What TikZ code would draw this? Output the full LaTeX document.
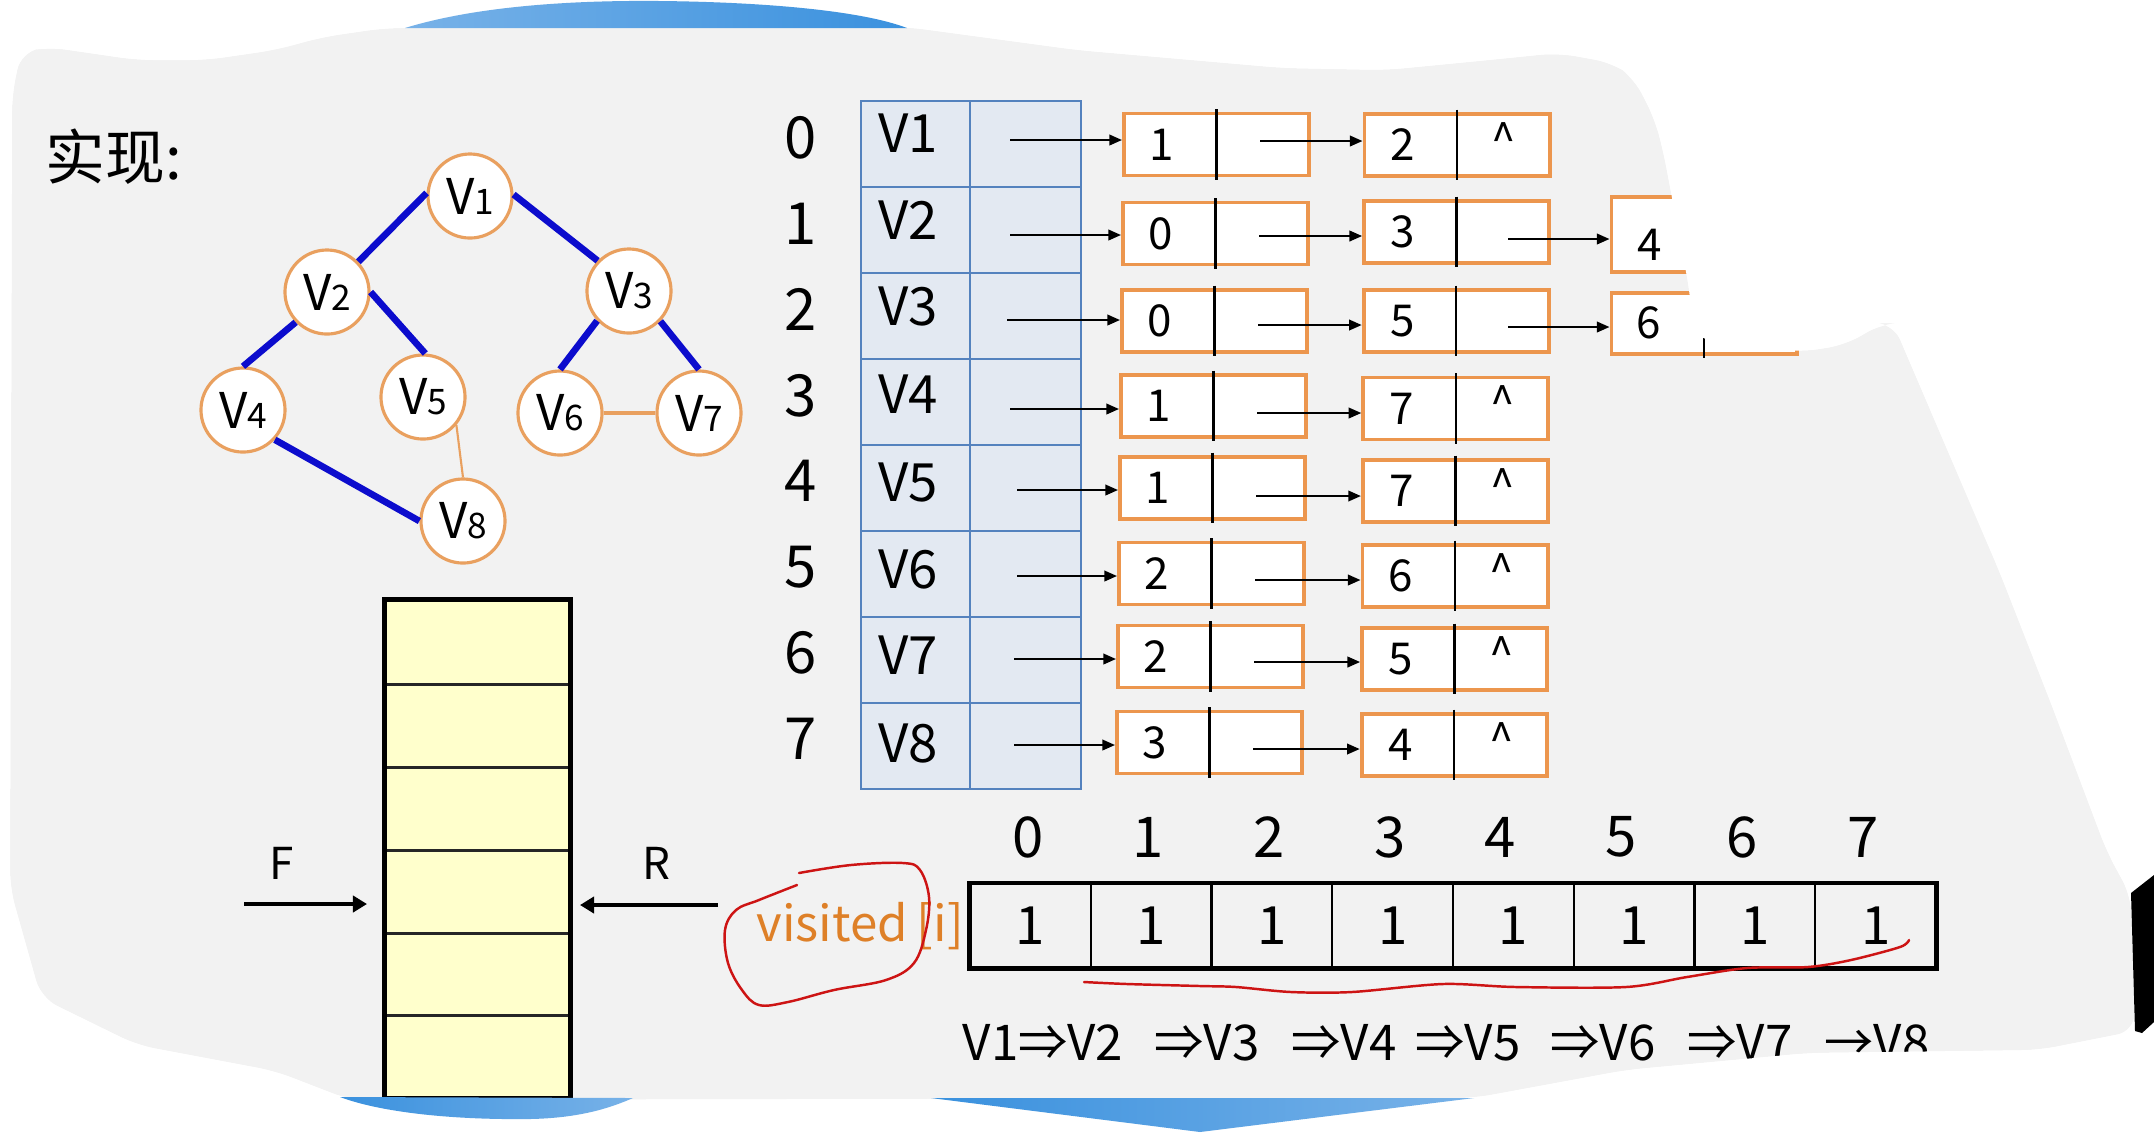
\documentclass[tikz,border=0pt]{standalone}
\usepackage{fontspec}
\setmainfont{Noto Sans CJK SC}
\usetikzlibrary{arrows.meta,calc}
\definecolor{bggray}{RGB}{242,242,242}
\definecolor{gorange}{RGB}{233,160,95}
\definecolor{borange}{RGB}{236,150,78}
\definecolor{gblue}{RGB}{12,12,205}
\definecolor{tblue}{RGB}{84,130,190}
\definecolor{tfill}{RGB}{227,233,242}
\definecolor{qfill}{RGB}{255,255,204}
\definecolor{vorange}{RGB}{222,128,40}
\definecolor{hred}{RGB}{205,20,20}
\definecolor{blueL}{RGB}{120,178,232}
\definecolor{blueR}{RGB}{58,145,222}
\newcommand\fsz[1]{\fontsize{#1}{#1}\selectfont}
\newcommand\gsb[1]{{\fsz{10pt}#1}}
\def\graypath{(12,95) -- (21,52) -- (48,47) -- (137,60) -- (206,60) -- (275,50) -- (323,37) -- (385,28) -- (907,27) -- (1077,50) -- (1283,68) -- (1386,70) -- (1489,60) -- (1558,53) -- (1613,63) -- (1633,77) -- (1654,117) -- (1663,150) -- (1690,293) -- (1693,338) -- (1800,352) -- (1845,345) -- (1883,323) -- (1893,323) -- (2000,573) -- (2052,706) -- (2107,852) -- (2131,896) -- (2135,1031) -- (2039,1050) -- (1808,1053) -- (1626,1070) -- (1474,1098) -- (350,1100) -- (275,1071) -- (137,1045) -- (41,998) -- (10,888) -- cycle}
\begin{document}
\begin{tikzpicture}[x=0.01cm,y=-0.01cm,
  gnode/.style={circle,draw=gorange,line width=0.9pt,fill=white,minimum size=0.84cm,inner sep=0pt,font={\fsz{14pt}}},
  bedge/.style={draw=gblue,line width=1.9pt},
  oedge/.style={draw=gorange,line width=0.6pt},
  tcell/.style={draw=tblue,fill=tfill,line width=0.6pt,inner sep=0pt,minimum height=0.86cm},
  obox/.style={draw=borange,fill=white,line width=1.1pt,inner sep=0pt,minimum width=1.85cm,minimum height=0.62cm},
  divl/.style={draw=black,line width=0.65pt},
  arr/.style={-{Triangle[length=3.6pt,width=3pt]},line width=0.6pt},
  barr/.style={-{Triangle[length=4pt,width=4.6pt]},line width=1.4pt},
  txt/.style={inner sep=0pt,text=black},
  qcell/.style={draw=black!85,fill=qfill,line width=0.85pt,inner sep=0pt,minimum width=1.85cm},
  vcell/.style={draw=black,line width=0.6pt,inner sep=0pt,minimum width=1.2075cm,minimum height=0.85cm,font={\fsz{15pt}}},
  hand/.style={draw=hred,line width=0.7pt,line cap=round,line join=round}]
\useasboundingbox (0,0) rectangle (2154,1132);
\fill[white] (-5,-5) rectangle (2159,1137);
\fill[bggray,rounded corners=5pt] \graypath;

% title
\node[txt,anchor=west,font={\fsz{17pt}}] (title) at (45,157) {实现:};

% graph
\node[gnode] (v1) at (470,196) {V\gsb{1}};
\node[gnode] (v2) at (327,292) {V\gsb{2}};
\node[gnode] (v3) at (629,291) {V\gsb{3}};
\node[gnode] (v4) at (243,410) {V\gsb{4}};
\node[gnode] (v5) at (423,397) {V\gsb{5}};
\node[gnode] (v6) at (560,413) {V\gsb{6}};
\node[gnode] (v7) at (699,413) {V\gsb{7}};
\node[gnode] (v8) at (463,521) {V\gsb{8}};
\draw[bedge] (v1.176) -- (v2.44);
\draw[bedge] (v1.2) -- (v3.136);
\draw[bedge] (v2.224) -- (v4.90);
\draw[bedge] (v2.0) -- (v5.87);
\draw[bedge] (v3.223) -- (v6.90);
\draw[bedge] (v3.-44) -- (v7.90);
\draw[bedge] (v4.-43) -- (v8.180);
\draw[oedge] (v5.-40) -- (v8.90);
\draw[oedge,line width=1.1pt] (v6.0) -- (v7.180);

% vertex table
\foreach \k in {0,...,7} {
  \node[tcell,minimum width=1.09cm] (ta\k) at (915.5,144+86*\k) {};
  \node[tcell,minimum width=1.11cm] (tb\k) at (1025.5,144+86*\k) {};
  \node[txt,font={\fsz{16.5pt}}] (ix\k) at (801,138+85.8*\k) {\k};
}
\foreach \k/\y [evaluate=\k as \n using int(\k+1)] in {0/133,1/220,2/306,3/394,4/482,5/569,6/655,7/743}
  \node[txt,font={\fsz{15pt}}] (tl\k) at (908,\y) {V\n};

% adjacency lists
\foreach \k/\ya/\yb/\va/\vb/\sx/\aa/\ab in {0/144.5/145/1/2/1010/140/141,1/233.5/232/0/3/1010/235/236,2/321/321/0/5/1007/320/325,3/406/408.5/1/7/1010/409/413,4/488/491/1/7/1017/490/496,5/573.5/576/2/6/1017/576/580,6/656.5/659/2/5/1014/659/662,7/742.5/745/3/4/1014/745/749} {
  \node[obox] (ba\k) at (1216.5-\k,\ya) {};
  \node[obox] (bb\k) at (1457-0.4*\k,\yb) {};
  \draw[divl] ([yshift=0.7pt]ba\k.north) -- ([yshift=-0.7pt]ba\k.south);
  \draw[divl] ([yshift=0.7pt]bb\k.north) -- ([yshift=-0.7pt]bb\k.south);
  \node[txt,font={\fsz{12.5pt}}] (na\k) at (1162-\k,\ya) {\va};
  \node[txt,font={\fsz{12.5pt}}] (nb\k) at (1403-0.4*\k,\yb) {\vb};
  \coordinate (s\k) at (\sx,\aa);
  \draw[arr] (s\k) -- (s\k -| ba\k.west);
  \coordinate (m\k) at (1260-\k,\ab);
  \draw[arr] (m\k) -- (m\k -| bb\k.west);
}
\foreach \k/\yb in {0/145,3/408.5,4/491,5/576,6/659,7/745}
  \node[txt,font={\fsz{12.5pt}}] (nc\k) at (1504-0.4*\k,\yb-6) {\textasciicircum};
\node[obox,minimum height=0.75cm] (bc1) at (1704,234.5) {};
\node[obox,minimum height=0.61cm] (bc2) at (1704,323.5) {};
\draw[divl] ([yshift=0.7pt]bc1.north) -- ([yshift=-0.7pt]bc1.south);
\draw[divl] ([yshift=0.7pt]bc2.north) -- ([yshift=-0.7pt]bc2.south);
\node[txt,font={\fsz{12.5pt}}] (nd1) at (1650,245) {4};
\node[txt,font={\fsz{12.5pt}}] (nd2) at (1649,323) {6};
\coordinate (p1) at (1508,239);
\coordinate (p2) at (1508,327);
\draw[arr] (p1) -- (p1 -| bc1.west);
\draw[arr] (p2) -- (p2 -| bc2.west);

% queue
\foreach \i/\ya/\yb in {1/600/684,2/684/767,3/767/850,4/850/933,5/933/1015,6/1015/1098}
  \node[qcell,minimum height={(\yb-\ya)*0.01cm}] (q\i) at (477.5,{(\ya+\yb)/2}) {};
\node[draw=black,line width=1.4pt,inner sep=0pt,minimum width=1.85cm,minimum height=4.98cm] (queue) at (477.5,849) {};
\node[txt,font={\fsz{12.5pt}}] (flab) at (282,863) {F};
\node[txt,font={\fsz{12.5pt}}] (rlab) at (656,863) {R};
\coordinate (fs) at (244,904);
\coordinate (fe) at (367,904);
\coordinate (rs) at (718,905);
\coordinate (re) at (580,905);
\draw[barr] (fs) -- (fe);
\draw[barr] (rs) -- (re);

% visited
\node[txt,anchor=base west,text=vorange,font={\fsz{14pt}}] (vlab) at (756,941) {visited\kern0.18em[i]};
\foreach \k/\x in {0/1028,1/1148,2/1269,3/1390,4/1500,5/1621,6/1742,7/1863} {
  \node[vcell] (vc\k) at (1030.4+120.75*\k,925.5) {1};
  \node[txt,font={\fsz{16pt}}] (vi\k) at (\x,837) {\k};
}
\node[draw=black,line width=1.4pt,inner sep=0pt,minimum width=9.66cm,minimum height=0.85cm] (vis) at (1453,925.5) {};
\draw[hand] plot[smooth,tension=0.6] coordinates {(799,873) (851,865) (903,863) (920,870) (929,897) (926,930) (914,963) (886,980) (834,990) (788,1002) (759,1005) (742,990) (728,963) (725,930) (736,910) (759,900) (797,885)};
\draw[hand] plot[smooth,tension=0.5] coordinates {(1084,982) (1127,984) (1200,986) (1236,987) (1291,992) (1352,992) (1443,984) (1516,987) (1626,987) (1687,977) (1747,968) (1808,967) (1851,960) (1900,947) (1909,940)};

% traversal order
\foreach \x/\t [count=\c] in {962/V1⇒V2,1154/⇒V3,1291/⇒V4,1415/⇒V5,1550/⇒V6,1687/⇒V7,1824/→V8}
  \node[txt,anchor=base west,font={\fsz{14pt}}] (ord\c) at (\x,1060) {\t};

% outside of the paper
\fill[white,even odd rule,rounded corners=5pt] (-20,-20) rectangle (2174,1152) \graypath;
\shade[left color=blueL,right color=blueR] (405,28) .. controls (470,8) and (560,0) .. (660,1) .. controls (760,2) and (860,10) .. (907,28) -- cycle;
\shade[left color=blueR,right color=blueL] (340,1097) .. controls (380,1112) and (450,1120) .. (530,1119) .. controls (580,1118) and (610,1108) .. (633,1098) -- cycle;
\shade[left color=blueR,right color=blueL] (931,1098) -- (1200,1132) -- (1474,1098) -- cycle;
\fill[black] (2131,893) -- (2154,875) -- (2154,1022) -- (2142,1033) -- (2135,1031) -- cycle;
\end{tikzpicture}
\end{document}
